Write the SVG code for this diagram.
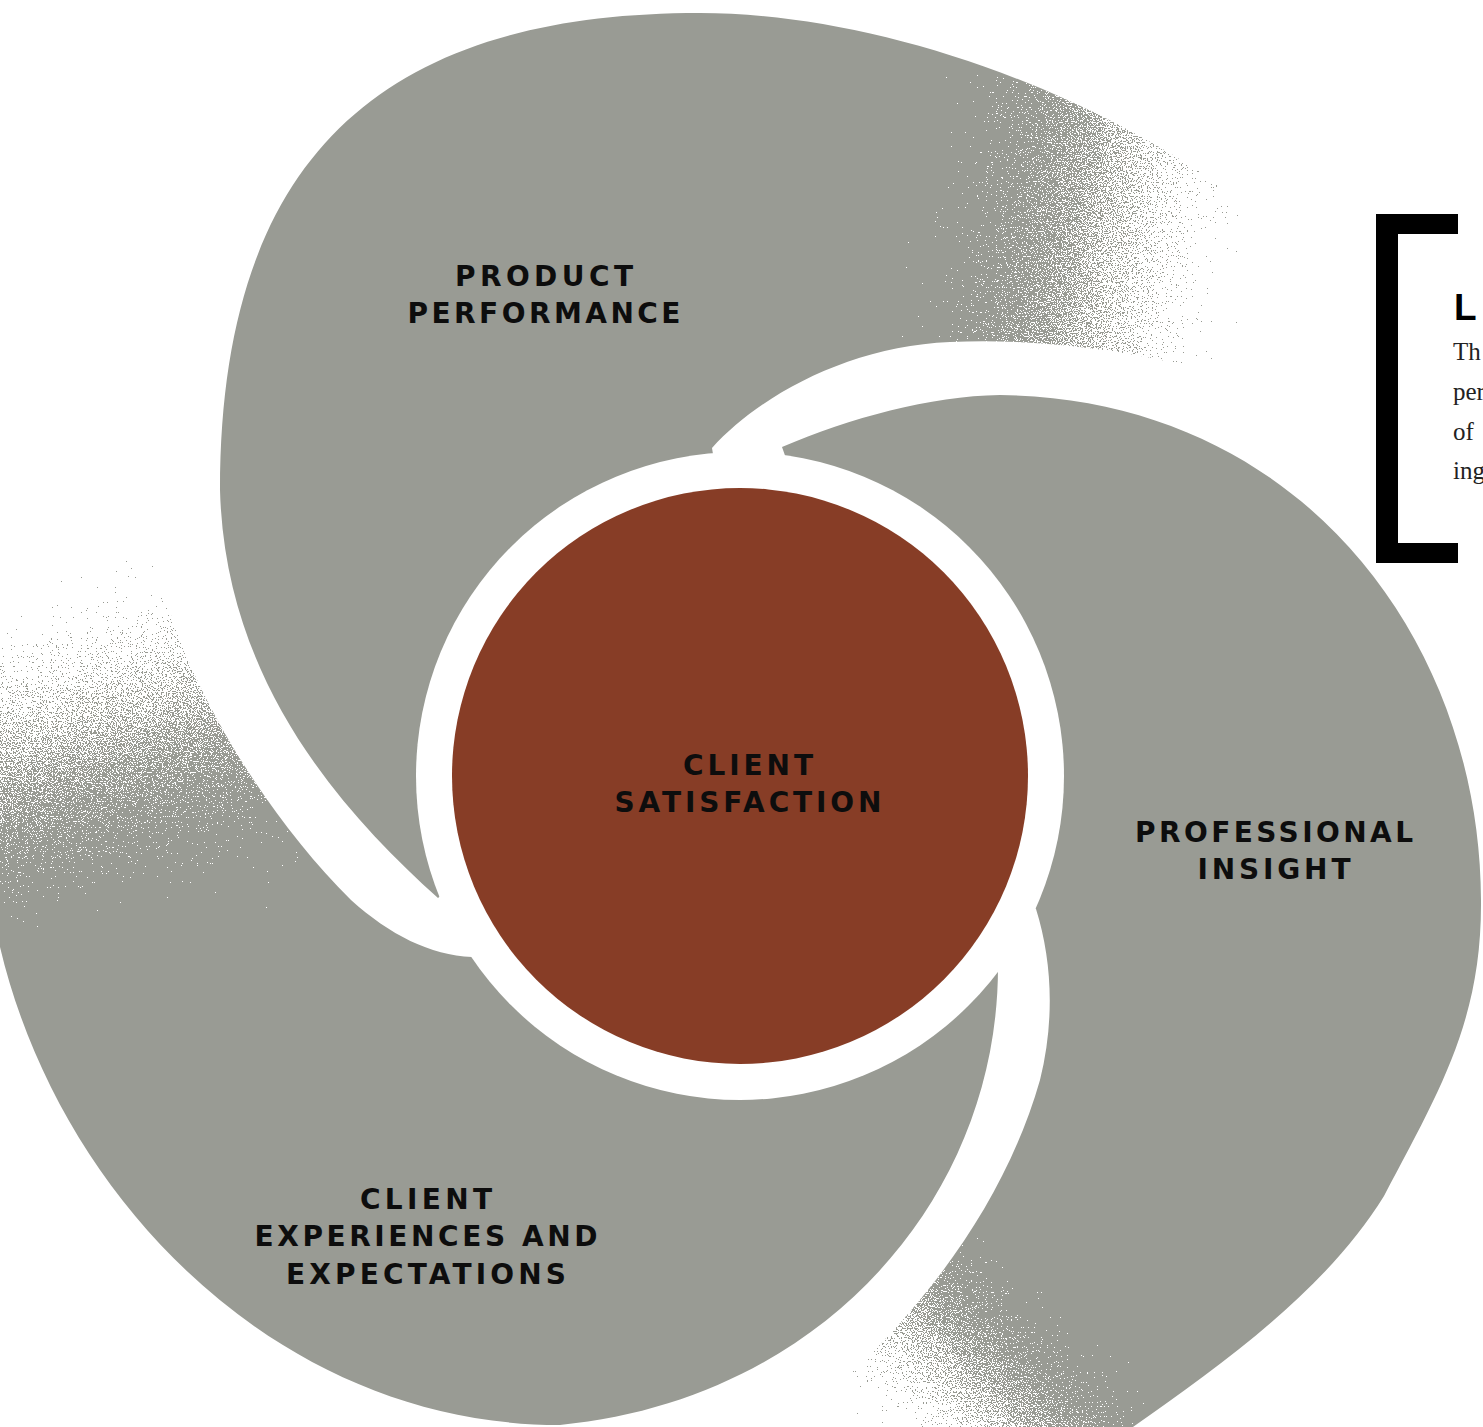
<svg xmlns="http://www.w3.org/2000/svg" width="1483" height="1427" viewBox="0 0 1483 1427">
<style>
.petal{fill:#999b94}
.lbl{font-family:"DejaVu Sans","Liberation Sans",sans-serif;font-weight:700;font-size:28px;fill:#0d0d0d;text-anchor:middle}
.hd{font-family:"Liberation Sans",sans-serif;font-weight:700;font-size:37px;fill:#000}
.body{font-family:"Liberation Serif",serif;font-size:25px;fill:#222}
</style>
<defs>
<filter id="dither" filterUnits="userSpaceOnUse" x="-200" y="-200" width="1900" height="1900" color-interpolation-filters="sRGB">
<feTurbulence type="fractalNoise" baseFrequency="0.8" numOctaves="2" seed="7" result="n"/>
<feColorMatrix in="n" type="matrix" values="1 0 0 0 0  1 0 0 0 0  1 0 0 0 0  0 0 0 0 1" result="nr"/>
<feComposite in="SourceGraphic" in2="nr" operator="arithmetic" k1="0" k2="1" k3="0.9" k4="-0.45" result="s"/>
<feComponentTransfer in="s">
<feFuncR type="discrete" tableValues="0 1"/>
<feFuncG type="discrete" tableValues="0 1"/>
<feFuncB type="discrete" tableValues="0 1"/>
<feFuncA type="linear" slope="0" intercept="1"/>
</feComponentTransfer>
</filter>
<linearGradient id="gr1" gradientUnits="userSpaceOnUse" x1="860" y1="0" x2="1380" y2="90"><stop offset="0" stop-color="#fff"/><stop offset="1" stop-color="#000"/></linearGradient>
<linearGradient id="gr2" gradientUnits="userSpaceOnUse" x1="1020" y1="1160" x2="760" y2="1420"><stop offset="0" stop-color="#fff"/><stop offset="1" stop-color="#000"/></linearGradient>
<linearGradient id="gr3" gradientUnits="userSpaceOnUse" x1="195" y1="1010" x2="30" y2="470"><stop offset="0" stop-color="#fff"/><stop offset="1" stop-color="#000"/></linearGradient>
<mask id="m1" maskUnits="userSpaceOnUse" x="-200" y="-200" width="1900" height="1900"><rect x="-200" y="-200" width="1900" height="1900" fill="url(#gr1)" filter="url(#dither)"/></mask>
<mask id="m2" maskUnits="userSpaceOnUse" x="-200" y="-200" width="1900" height="1900"><rect x="-200" y="-200" width="1900" height="1900" fill="url(#gr2)" filter="url(#dither)"/></mask>
<mask id="m3" maskUnits="userSpaceOnUse" x="-200" y="-200" width="1900" height="1900"><rect x="-200" y="-200" width="1900" height="1900" fill="url(#gr3)" filter="url(#dither)"/></mask>
</defs>
<rect width="1483" height="1427" fill="#fff"/>
<g id="node-product-performance">
<path class="petal" mask="url(#m1)" d="M220,490 C220,150 390,13 700,13 C850,13 1050,70 1220,185 C1280,230 1300,330 1260,385 C1150,352 1050,338 950,342 C850,346 760,395 712,448 L740,620 L438,898 C340,810 225,680 220,490 Z"/>
<text class="lbl" x="544" y="286" textLength="178" lengthAdjust="spacing">PRODUCT</text>
<text class="lbl" x="544" y="323" textLength="273" lengthAdjust="spacing">PERFORMANCE</text>
</g>
<g id="node-professional-insight">
<path class="petal" mask="url(#m2)" d="M782,447 C850,418 930,396 1000,395 C1300,398 1480,640 1481,900 C1482,1020 1440,1090 1384,1196 C1320,1300 1200,1380 1100,1450 L1000,1520 L780,1520 L785,1430 C900,1340 1000,1220 1040,1080 C1055,1020 1052,960 1036,909 L900,780 Z"/>
<text class="lbl" x="1274" y="842" textLength="278" lengthAdjust="spacing">PROFESSIONAL</text>
<text class="lbl" x="1274" y="879" textLength="153" lengthAdjust="spacing">INSIGHT</text>
</g>
<g id="node-client-experiences">
<path class="petal" mask="url(#m3)" d="M998,967 C998,1200 820,1400 560,1425 C280,1425 60,1200 0,947 C-40,820 -70,640 -40,520 C0,440 120,430 153,530 C160,640 250,800 351,900 C390,935 430,955 472,957 L600,800 Z"/>
<text class="lbl" x="426" y="1209" textLength="132" lengthAdjust="spacing">CLIENT</text>
<text class="lbl" x="426" y="1246" textLength="343" lengthAdjust="spacing">EXPERIENCES AND</text>
<text class="lbl" x="426" y="1284" textLength="280" lengthAdjust="spacing">EXPECTATIONS</text>
</g>
<g id="node-client-satisfaction">
<circle cx="740" cy="776" r="324" fill="#fff"/>
<circle cx="740" cy="776" r="288" fill="#873d26"/>
<text class="lbl" x="748" y="775" textLength="130" lengthAdjust="spacing">CLIENT</text>
<text class="lbl" x="748" y="812" textLength="267" lengthAdjust="spacing">SATISFACTION</text>
</g>
<g id="connectors"/>
<g id="side-note">
<path d="M1458,214 H1376 V563 H1458 V543 H1398 V234 H1458 Z" fill="#000"/>
<text class="hd" x="1454" y="320">L</text>
<text class="body" x="1453" y="360">Th</text>
<text class="body" x="1453" y="400">per</text>
<text class="body" x="1453" y="440">of</text>
<text class="body" x="1453" y="479">ing</text>
</g>
</svg>
